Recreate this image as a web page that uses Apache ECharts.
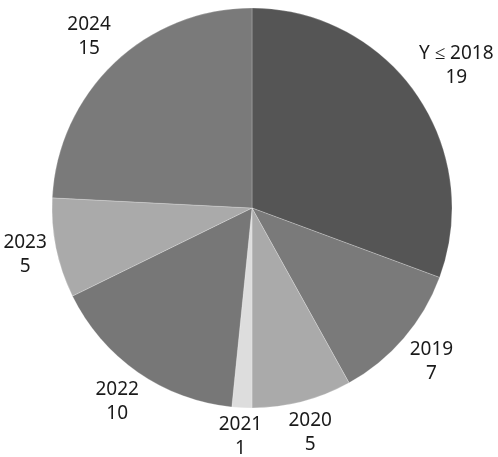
<!DOCTYPE html>
<html>
<head>
<meta charset="utf-8">
<script src="https://cdn.jsdelivr.net/npm/echarts@6/dist/echarts.min.js"></script>
<style>
  html, body { margin: 0; padding: 0; background: #fff; }
  #chart { width: 498px; height: 457px; }
</style>
</head>
<body>
<div id="chart"></div>
<script>
const categories = ['Y ≤ 2018', '2019', '2020', '2021', '2022', '2023', '2024'];
const counts = [19, 7, 5, 1, 10, 5, 15];
const sliceColors = ['#555555', '#7a7a7a', '#aaaaaa', '#dddddd', '#777777', '#aaaaaa', '#7a7a7a'];

// pie geometry
const cx = 252, cy = 208, r = 200, gap = 6;

const total = counts.reduce((a, b) => a + b, 0);
const midAngles = [];
let acc = 0;
counts.forEach(v => {
    midAngles.push((acc + v / 2) / total * 2 * Math.PI);
    acc += v;
});

const chart = echarts.init(document.getElementById('chart'));

chart.setOption({
    animation: false,
    series: [{
        type: 'pie',
        center: [cx, cy],
        radius: r,
        startAngle: 90,
        clockwise: true,
        avoidLabelOverlap: false,
        data: categories.map((name, i) => ({
            name: name,
            value: counts[i],
            itemStyle: { color: sliceColors[i] }
        })),
        itemStyle: { borderColor: 'rgba(255,255,255,0.45)', borderWidth: 0.5 },
        emphasis: { disabled: true },
        label: {
            show: true,
            position: 'outside',
            formatter: '{t|{b}}\n{t|{c}}',
            rich: {
                t: {
                    align: 'center',
                    fontSize: 19,
                    lineHeight: 24,
                    color: '#1a1a1a',
                    fontFamily: 'Noto Sans'
                }
            }
        },
        labelLine: { show: false },
        // centre each label just outside the rim, along the slice's mid angle
        labelLayout: function (p) {
            const a = midAngles[p.dataIndex];
            const dx = Math.sin(a), dy = -Math.cos(a);
            const w = p.labelRect.width, h = p.labelRect.height;
            const d = r + gap + w / 2 * Math.abs(dx) + h / 2 * Math.abs(dy);
            return {
                x: cx + dx * d,
                y: cy + dy * d,
                align: 'center',
                verticalAlign: 'middle'
            };
        }
    }]
});
</script>
</body>
</html>
